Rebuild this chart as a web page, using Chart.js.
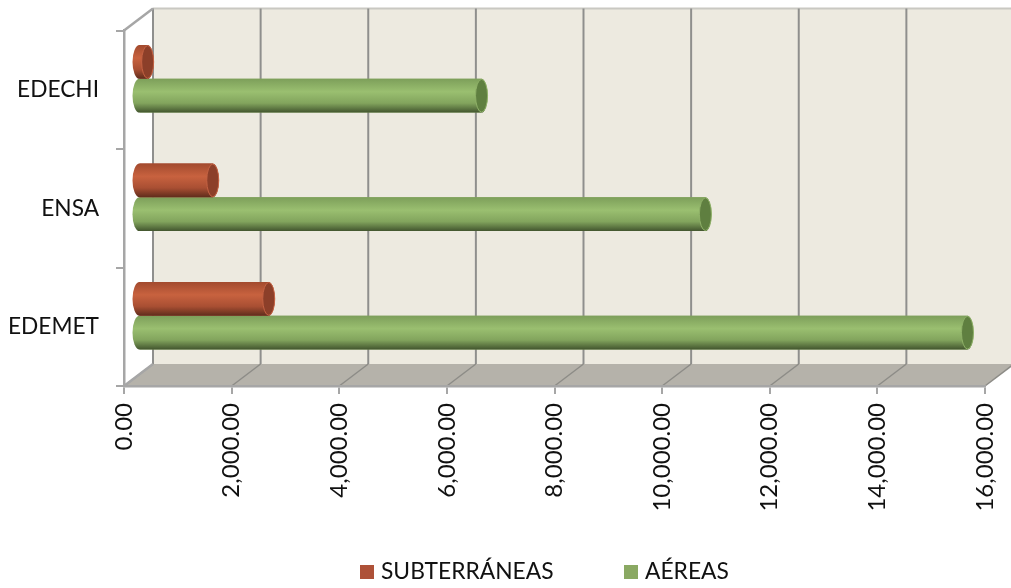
<!DOCTYPE html>
<html>
<head>
<meta charset="utf-8">
<style>html,body{margin:0;padding:0;background:#fff;overflow:hidden}canvas{display:block}</style>
<script src="https://cdn.jsdelivr.net/npm/chart.js@4"></script>
</head>
<body>
<canvas id="c" width="1011" height="588"></canvas>
<script>
const categories = ['EDECHI', 'ENSA', 'EDEMET'];
const subterraneas = [170, 1380, 2420];
const aereas = [6375, 10535, 15405];
const seriesNames = ['SUBTERRÁNEAS', 'AÉREAS'];
const xTicks = [0, 2000, 4000, 6000, 8000, 10000, 12000, 14000, 16000];

const FONT = 'Lato, Carlito, Calibri, sans-serif';
const DX = 29, DY = -22;
const AXIS = '#a6a6a6', GRID = '#8f8f8d';

const shades = [
  {top:'#a24a2e', hi:'#c8623f', low:'#a94f33', bottom:'#5f2c1c', cap:'#8c3f29', capEdge:'#c46243', legend:'#ae5138'},
  {top:'#7d9f5a', hi:'#9abf70', low:'#82a45d', bottom:'#42552e', cap:'#5f7f40', capEdge:'#8fb168', legend:'#8aa963'}
];

const depth3d = {
  id: 'depth3d',
  beforeDraw(chart) {
    const {ctx, chartArea: a, scales: {x}} = chart;
    const L = a.left, R = a.right, T = a.top, B = a.bottom;
    ctx.save();
    ctx.fillStyle = '#edeae0';
    ctx.fillRect(L + DX, T + DY, R - L, B - T);
    ctx.strokeStyle = '#c9c8c2'; ctx.lineWidth = 2;
    ctx.beginPath(); ctx.moveTo(L + DX, T + DY); ctx.lineTo(R + DX, T + DY); ctx.stroke();
    ctx.fillStyle = '#b5b2aa';
    ctx.beginPath();
    ctx.moveTo(L, B); ctx.lineTo(R, B); ctx.lineTo(R + DX, B + DY); ctx.lineTo(L + DX, B + DY);
    ctx.closePath(); ctx.fill();
    xTicks.forEach(v => {
      const px = x.getPixelForValue(v);
      ctx.strokeStyle = GRID; ctx.lineWidth = 2;
      ctx.beginPath(); ctx.moveTo(px + DX, T + DY); ctx.lineTo(px + DX, B + DY); ctx.stroke();
      ctx.strokeStyle = '#8d8c87'; ctx.lineWidth = 1.5;
      ctx.beginPath(); ctx.moveTo(px, B); ctx.lineTo(px + DX, B + DY); ctx.stroke();
    });
    ctx.strokeStyle = AXIS; ctx.lineWidth = 2.5;
    ctx.beginPath(); ctx.moveTo(L, T); ctx.lineTo(L + DX, T + DY); ctx.stroke();
    ctx.beginPath(); ctx.moveTo(L, B); ctx.lineTo(L + DX, B + DY); ctx.stroke();
    ctx.restore();
  },
  beforeDatasetDraw(chart) {
    chart.ctx.save();
    chart.ctx.translate(DX / 2, DY / 2);
  },
  afterDatasetDraw(chart, args) {
    const ctx = chart.ctx, s = shades[args.index];
    const rx = 6;
    args.meta.data.forEach(el => {
      const h = el.height, top = el.y - h / 2, bot = el.y + h / 2;
      const g = ctx.createLinearGradient(0, top, 0, bot);
      g.addColorStop(0, s.top);
      g.addColorStop(0.38, s.hi);
      g.addColorStop(0.72, s.low);
      g.addColorStop(1, s.bottom);
      ctx.beginPath();
      ctx.moveTo(el.base, top);
      ctx.lineTo(el.x, top);
      ctx.ellipse(el.x, el.y, rx, h / 2, 0, -Math.PI / 2, Math.PI / 2);
      ctx.lineTo(el.base, bot);
      ctx.ellipse(el.base, el.y, rx + 1, h / 2, 0, Math.PI / 2, Math.PI * 1.5);
      ctx.closePath();
      ctx.fillStyle = g;
      ctx.fill();
      ctx.beginPath();
      ctx.ellipse(el.x, el.y, rx, h / 2 - 0.5, 0, 0, Math.PI * 2);
      ctx.fillStyle = s.cap;
      ctx.fill();
      ctx.strokeStyle = s.capEdge; ctx.lineWidth = 1;
      ctx.stroke();
    });
    ctx.restore();
  },
  afterDraw(chart) {
    const ctx = chart.ctx;
    const items = [{sq: 360, tx: 381}, {sq: 624, tx: 645}];
    ctx.save();
    ctx.textBaseline = 'alphabetic';
    ctx.textAlign = 'left';
    ctx.font = '22.8px ' + FONT;
    chart.data.datasets.forEach((d, i) => {
      ctx.fillStyle = shades[i].legend;
      ctx.fillRect(items[i].sq, 565, 14, 14);
      ctx.fillStyle = '#111';
      ctx.fillText(d.label, items[i].tx, 579);
    });
    ctx.restore();
  }
};

new Chart(document.getElementById('c'), {
  type: 'bar',
  data: {
    labels: categories,
    datasets: [
      {label: seriesNames[0], data: subterraneas, backgroundColor: shades[0].legend},
      {label: seriesNames[1], data: aereas, backgroundColor: shades[1].legend}
    ]
  },
  options: {
    indexAxis: 'y',
    responsive: false,
    animation: false,
    layout: {padding: {left: 0, right: 26, top: 28, bottom: 0}},
    datasets: {bar: {categoryPercentage: 0.57, barPercentage: 1}},
    plugins: {legend: {display: false}, tooltip: {enabled: false}},
    scales: {
      x: {
        type: 'linear', min: 0, max: 16000,
        afterFit(s) { s.height = 202; s.paddingLeft = 0; s.paddingRight = 0; },
        afterBuildTicks(s) { s.ticks = xTicks.map(v => ({value: v})); },
        grid: {drawOnChartArea: false, drawTicks: true, tickLength: 8, color: AXIS, lineWidth: 2},
        border: {display: true, color: AXIS, width: 2.5},
        ticks: {
          minRotation: 90, maxRotation: 90, padding: 9, color: '#111',
          font: {family: FONT, size: 24},
          callback: v => v.toLocaleString('en-US', {minimumFractionDigits: 2, maximumFractionDigits: 2})
        }
      },
      y: {
        afterFit(s) { s.width = 124; },
        grid: {drawOnChartArea: false, drawTicks: true, tickLength: 8, color: AXIS, lineWidth: 2, offset: true},
        border: {display: true, color: AXIS, width: 2.5},
        ticks: {padding: 17, color: '#111', font: {family: FONT, size: 22.7}}
      }
    }
  },
  plugins: [depth3d]
});
</script>
</body>
</html>
